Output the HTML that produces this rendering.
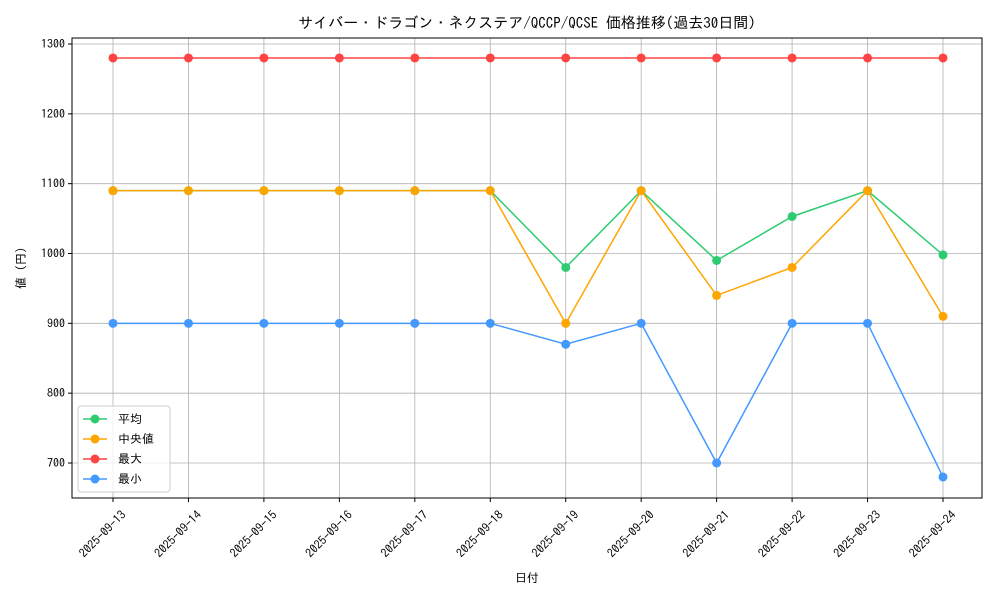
<!DOCTYPE html>
<html><head><meta charset="utf-8"><style>
body{margin:0;background:#fff;}
svg text{font-family:"IPAGothic","Noto Sans CJK JP",monospace;fill:#000;}
</style></head><body>
<svg id="chart" width="1000" height="600" xmlns="http://www.w3.org/2000/svg">
<rect width="1000" height="600" fill="#fff"/>
<text x="527" y="28" font-size="15" text-anchor="middle">サイバー・ドラゴン・ネクステア/QCCP/QCSE 価格推移(過去30日間)</text>
<g id="grid"></g>
<g id="axes"></g>
<g id="series"></g>
<rect x="72" y="38" width="910" height="460" fill="none" stroke="#000" stroke-width="1"/>
<text x="527" y="582" font-size="12" text-anchor="middle">日付</text>
<text transform="translate(25,268) rotate(-90)" font-size="12" text-anchor="middle">値 (円)</text>
<g id="legend"></g>
</svg>
<script>
const categories=["2025-09-13","2025-09-14","2025-09-15","2025-09-16","2025-09-17","2025-09-18","2025-09-19","2025-09-20","2025-09-21","2025-09-22","2025-09-23","2025-09-24"];
const avgValues=[1090,1090,1090,1090,1090,1090,980,1090,990,1053,1090,998];
const medianValues=[1090,1090,1090,1090,1090,1090,900,1090,940,980,1090,910];
const maxValues=[1280,1280,1280,1280,1280,1280,1280,1280,1280,1280,1280,1280];
const minValues=[900,900,900,900,900,900,870,900,700,900,900,680];
const yTicks=[700,800,900,1000,1100,1200,1300];
const seriesNames=["平均","中央値","最大","最小"];
const NS="http://www.w3.org/2000/svg";
function X(i){return 113+i*(943-113)/(categories.length-1);}
function Y(v){return 44+(1300-v)*(463-44)/600;}
function mk(t,a,p){const e=document.createElementNS(NS,t);for(const k in a)e.setAttribute(k,a[k]);p.appendChild(e);return e;}
const grid=document.getElementById('grid'),axes=document.getElementById('axes'),ser=document.getElementById('series'),leg=document.getElementById('legend');
categories.forEach((c,i)=>{
  const l=mk('line',{x1:X(i),x2:X(i),y1:38,y2:498,stroke:'#b0b0b0','stroke-width':0.8},grid);
  
  
  mk('line',{x1:X(i),x2:X(i),y1:498,y2:502,stroke:'#000'},axes);
  const t=mk('text',{transform:`translate(${X(i)+8},510) rotate(-45)`,'font-size':12,'text-anchor':'end','dominant-baseline':'hanging'},axes);
  t.textContent=c;
  
  
});
yTicks.forEach(v=>{
  const l=mk('line',{x1:72,x2:982,y1:Y(v),y2:Y(v),stroke:'#b0b0b0','stroke-width':0.8},grid);
  
  
  mk('line',{x1:68,x2:72,y1:Y(v),y2:Y(v),stroke:'#000'},axes);
  const t=mk('text',{x:65,y:Y(v)+4,'font-size':12,'text-anchor':'end'},axes);
  t.textContent=v;
  
  
});
const series=[[avgValues,'#2ecc71','avg'],[medianValues,'#ffa500','median'],[maxValues,'#ff4444','max'],[minValues,'#4499ff','min']];
series.forEach(([vals,col,nm])=>{
  const p=mk('polyline',{points:vals.map((v,i)=>X(i)+','+Y(v)).join(' '),fill:'none',stroke:col,'stroke-width':1.5},ser);
  
  
  vals.forEach((v,i)=>{
    const c=mk('circle',{cx:X(i),cy:Y(v),r:4.5,fill:col},ser);
    
    
  });
});
const box=mk('rect',{x:78,y:406,width:92,height:86,rx:3,fill:'#fff','fill-opacity':0.8,stroke:'#ccc'},leg);


series.forEach(([vals,col,nm],k)=>{
  const y=419+k*20;
  const g=mk('g',{},leg);
  
  
  mk('line',{x1:83,x2:107,y1:y,y2:y,stroke:col,'stroke-width':1.5},g);
  mk('circle',{cx:95,cy:y,r:4.5,fill:col},g);
  const t=mk('text',{x:118,y:y+4,'font-size':12},g);
  t.textContent=seriesNames[k];
});
</script>
</body></html>
